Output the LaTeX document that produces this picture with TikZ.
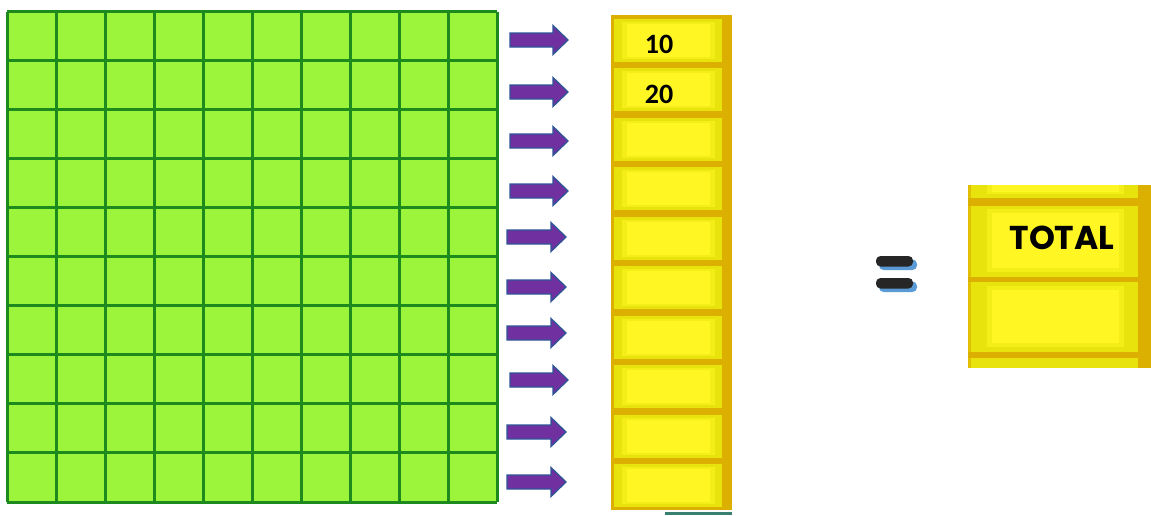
\documentclass[tikz,border=0pt]{standalone}
\usepackage{fontspec}
\setmainfont{Carlito}
\newfontfamily\comicfont{Poppins}
\definecolor{gridfill}{HTML}{9CF53A}
\definecolor{gridline}{HTML}{1C8A1C}
\definecolor{arrowfill}{HTML}{7030A0}
\definecolor{arrowline}{HTML}{2F5597}
\definecolor{ydark}{HTML}{DCB000}
\definecolor{ymid}{HTML}{E8E30C}
\definecolor{yglow}{HTML}{F3EE18}
\definecolor{ybright}{HTML}{FFF624}
\definecolor{eqdark}{HTML}{262626}
\definecolor{eqblue}{HTML}{5B9BD5}
\definecolor{tealbar}{HTML}{3A8070}
\tikzset{
  fatarrow/.style={fill=arrowfill,draw=arrowline,line width=1.3pt,line join=miter},
  numtext/.style={font=\fontsize{28}{30}\selectfont\bfseries,inner sep=0pt,text=black},
  totaltext/.style={font=\comicfont\fontsize{33}{36}\selectfont\bfseries,inner sep=0pt,text=black},
  eqbar/.style={fill=eqdark,rounded corners=4.5pt},
  eqshadow/.style={fill=eqblue,rounded corners=4.5pt},
}
\begin{document}
\begin{tikzpicture}[x=1pt,y=-1pt]
\useasboundingbox (0,0) rectangle (1151,515);
\fill[white] (0,0) rectangle (1151,515);
% ---- green grid
\fill[gridfill] (7,11.5) rectangle (497,502);
\foreach \i in {0,...,10}{
  \draw[gridline,line width=3pt] ({7+49*\i},11.5) -- ({7+49*\i},502);
  \draw[gridline,line width=3pt] (7,{11.5+49.05*\i}) -- (497,{11.5+49.05*\i});
}
% ---- arrows
\foreach \xs/\xt/\yc in {510/568/40,510/568/92,510/568/141,510/568/191,507/566/237,507/566/287,507/566/333,510/568/380,507/566/432,507/566/482}{
  \draw[fatarrow] (\xs,\yc-7) -- (\xt-15,\yc-7) -- (\xt-15,\yc-14.5) -- (\xt,\yc) -- (\xt-15,\yc+14.5) -- (\xt-15,\yc+7) -- (\xs,\yc+7) -- cycle;
}
% ---- yellow column
\fill[ydark] (611,15) rectangle (732,510);
\foreach \k in {0,...,9}{
  \pgfmathsetmacro{\t}{15+49.5*\k}
  \fill[ymid] (613.5,\t+3.5) rectangle (722,\t+46.5);
  \fill[yglow] (622,\t+6.5) rectangle (715,\t+43.5);
  \fill[ybright] (627,\t+8.5) rectangle (710,\t+41.5);
}
\fill[tealbar] (665,512) rectangle (732,515);
\node[numtext] (n10) at (659,44) {10};
\node[numtext] (n20) at (659,94) {20};
% ---- equals sign
\fill[eqshadow] (879,259.5) rectangle (917,270);
\fill[eqbar] (876,256) rectangle (913,266.5);
\fill[eqshadow] (879,281.5) rectangle (917,292);
\fill[eqbar] (876,278) rectangle (913,288.5);
% ---- total box
\fill[ymid] (968,185) rectangle (1151,368);
\fill[ydark!70!ymid] (968,185) rectangle (971,368);
\fill[ydark] (968,198) rectangle (1151,206);
\fill[ydark] (968,277) rectangle (1151,282);
\fill[ydark] (968,352) rectangle (1151,358);
\fill[ydark] (1138,185) rectangle (1151,368);
\fill[yglow] (987,185) rectangle (1124,194);
\fill[ybright] (992,185) rectangle (1119,192);
\fill[yglow] (987,209) rectangle (1124,272);
\fill[ybright] (992,213) rectangle (1119,268);
\fill[yglow] (987,286) rectangle (1124,347);
\fill[ybright] (992,290) rectangle (1119,343);
\node[totaltext] (total) at (1062,238) {TOTAL};
\end{tikzpicture}
\end{document}
